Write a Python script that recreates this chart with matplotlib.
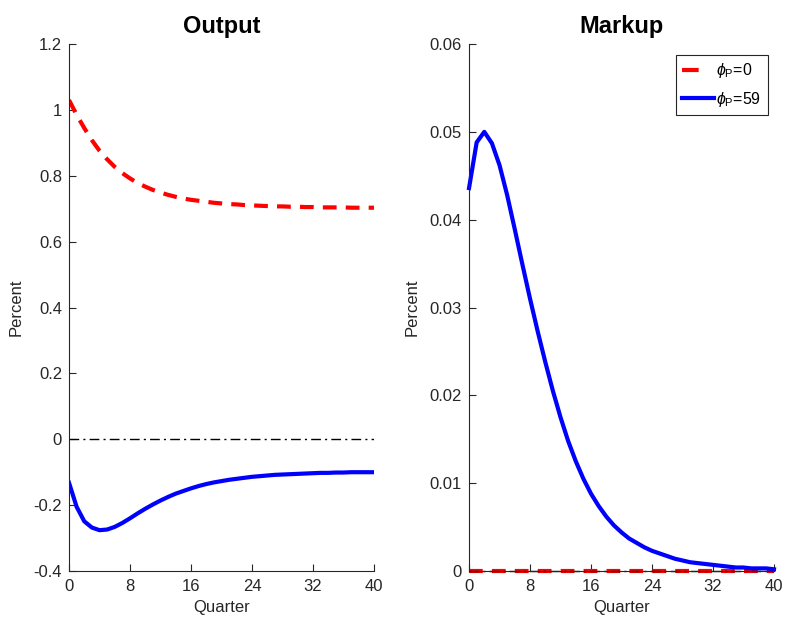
import numpy as np
import matplotlib
matplotlib.use("Agg")
import matplotlib.pyplot as plt
from matplotlib.lines import Line2D

plt.rcParams['font.family'] = ['Liberation Sans', 'DejaVu Sans']
plt.rcParams['mathtext.fontset'] = 'custom'
plt.rcParams['mathtext.rm'] = 'Liberation Sans'
plt.rcParams['mathtext.it'] = 'Liberation Sans:italic'

quarters = list(range(41))

# Output response, phi_P = 0 (red dashed)
output_phi0 = [1.030, 0.985, 0.945, 0.908, 0.876, 0.850, 0.827, 0.808, 0.792, 0.778,
               0.767, 0.757, 0.749, 0.742, 0.736, 0.731, 0.727, 0.724, 0.721, 0.718,
               0.716, 0.714, 0.713, 0.711, 0.710, 0.709, 0.708, 0.707, 0.707, 0.706,
               0.706, 0.705, 0.705, 0.704, 0.704, 0.704, 0.704, 0.703, 0.703, 0.703, 0.703]

# Output response, phi_P = 59 (blue solid)
output_phi59 = [-0.132, -0.205, -0.249, -0.268, -0.276, -0.274, -0.266, -0.254, -0.240, -0.225,
                -0.211, -0.198, -0.186, -0.175, -0.165, -0.157, -0.149, -0.142, -0.136, -0.131,
                -0.127, -0.123, -0.120, -0.117, -0.114, -0.112, -0.110, -0.108, -0.107, -0.106,
                -0.105, -0.104, -0.103, -0.102, -0.102, -0.101, -0.101, -0.100, -0.100, -0.100, -0.100]

# Markup response
markup_phi0 = [0.0] * 41
markup_phi59 = [0.0436, 0.0488, 0.0500, 0.0487, 0.0462, 0.0428, 0.0389, 0.0349, 0.0310, 0.0273,
                0.0238, 0.0205, 0.0175, 0.0148, 0.0125, 0.0105, 0.0088, 0.0074, 0.0062, 0.0052,
                0.0044, 0.0037, 0.0032, 0.0027, 0.0023, 0.0020, 0.0017, 0.0014, 0.0012, 0.0010,
                0.0009, 0.0008, 0.0007, 0.0006, 0.0005, 0.0004, 0.0004, 0.0003, 0.0003, 0.0003, 0.0002]

xticks = [0, 8, 16, 24, 32, 40]
labels = [r'$\phi_{\mathrm{P}}$=0', r'$\phi_{\mathrm{P}}$=59']

fig = plt.figure(figsize=(7.85, 6.19), dpi=100)
ax1 = fig.add_axes([0.0879, 0.0775, 0.3885, 0.8514])
ax2 = fig.add_axes([0.5975, 0.0775, 0.3885, 0.8514])

dash = (0, (3.3, 2.2))
zero_style = (0, (7, 3, 1.5, 3))
gray = '#262626'


def style_axes(ax):
    for side in ['top', 'right']:
        ax.spines[side].set_visible(False)
    for side in ['left', 'bottom']:
        ax.spines[side].set_color(gray)
        ax.spines[side].set_linewidth(0.8)
    ax.tick_params(direction='in', length=5, width=0.8, colors=gray,
                   labelsize=12, labelcolor=gray)
    ax.tick_params(axis='x', pad=6)
    ax.tick_params(axis='y', pad=5)
    ax.set_xlim(0, 40)
    ax.set_xticks(xticks)
    ax.set_xlabel('Quarter', fontsize=12, color=gray, labelpad=4)
    ax.set_ylabel('Percent', fontsize=12, color=gray, labelpad=7)


# left panel
ax1.plot(quarters, output_phi0, color='red', linewidth=3, linestyle=dash)
ax1.plot(quarters, output_phi59, color='blue', linewidth=3)
ax1.plot([0, 40], [0, 0], color='black', linewidth=1, linestyle=zero_style)
ax1.set_ylim(-0.4, 1.2)
ax1.set_yticks([-0.4, -0.2, 0, 0.2, 0.4, 0.6, 0.8, 1.0, 1.2])
ax1.set_yticklabels(['-0.4', '-0.2', '0', '0.2', '0.4', '0.6', '0.8', '1', '1.2'])
ax1.set_title('Output', fontsize=17, fontweight='bold', pad=8)
style_axes(ax1)

# right panel
ax2.plot(quarters, markup_phi0, color='red', linewidth=3, linestyle=dash, clip_on=False)
ax2.plot(quarters, markup_phi59, color='blue', linewidth=3, clip_on=False)
ax2.plot([0, 40], [0, 0], color='black', linewidth=1, linestyle=zero_style, clip_on=False)
ax2.set_ylim(0, 0.06)
ax2.set_yticks([0, 0.01, 0.02, 0.03, 0.04, 0.05, 0.06])
ax2.set_yticklabels(['0', '0.01', '0.02', '0.03', '0.04', '0.05', '0.06'])
ax2.set_title('Markup', fontsize=17, fontweight='bold', pad=8)
style_axes(ax2)

# legend handles: red shows a single dash like the reference
handles = [Line2D([], [], color='red', linewidth=3, linestyle=(0, (4, 10))),
           Line2D([], [], color='blue', linewidth=3)]
leg = ax2.legend(handles, labels, loc='upper right', bbox_to_anchor=(0.99, 0.985), fontsize=11.5,
                 fancybox=False, framealpha=1, edgecolor=gray, handlelength=2.0,
                 handletextpad=0.15, borderpad=0.4, labelspacing=0.6, borderaxespad=0.2)
leg.get_frame().set_linewidth(0.8)

fig.savefig('out.png', dpi=100)
